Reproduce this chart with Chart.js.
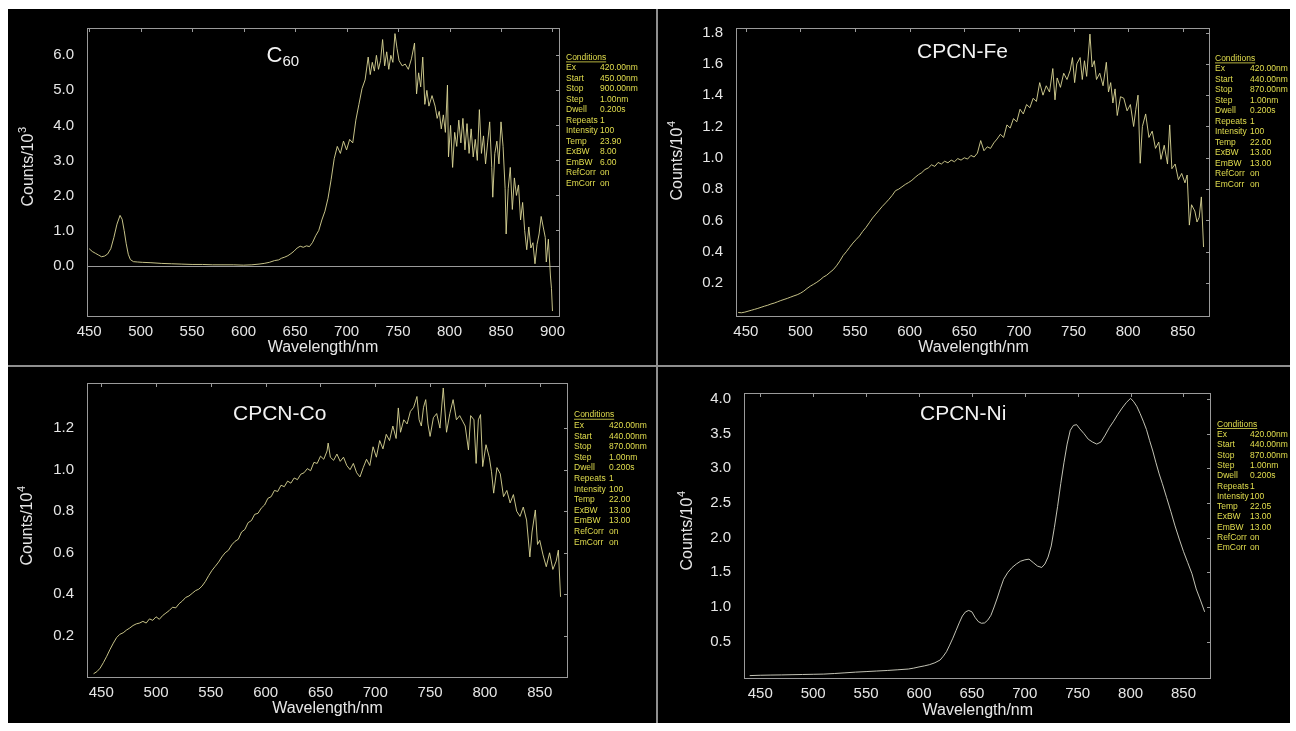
<!DOCTYPE html>
<html>
<head>
<meta charset="utf-8">
<title>Emission spectra</title>
<script src="https://cdn.jsdelivr.net/npm/chart.js@4.4.1/dist/chart.umd.min.js"></script>
<style>
  html, body { margin: 0; padding: 0; background: #fff; }
  #stage { position: relative; width: 1296px; height: 731px; overflow: hidden; }
  #board { position: absolute; left: 8px; top: 9px; width: 1282px; height: 714px; background: #000; }
  .vdiv { position: absolute; left: 656px; top: 9px; width: 2px; height: 714px; background: #8f8f8f; }
  .hdiv { position: absolute; left: 8px; top: 365px; width: 1282px; height: 2px; background: #8f8f8f; }
  canvas { position: absolute; left: 0; top: 0; }
</style>
</head>
<body>
<div id="stage">
  <div id="board"></div>
  <div class="vdiv"></div>
  <div class="hdiv"></div>
  <canvas id="c60Chart" width="1296" height="731"></canvas>
  <canvas id="feChart" width="1296" height="731"></canvas>
  <canvas id="coChart" width="1296" height="731"></canvas>
  <canvas id="niChart" width="1296" height="731"></canvas>
</div>
<script>
// C60 spectrum (counts / 10^3)
const c60Wavelength = [
  450, 453, 456, 459, 462, 465, 468, 471, 474, 477,
  480, 482, 484, 486, 488, 490, 493, 497, 502, 510,
  520, 530, 540, 550, 560, 570, 580, 590, 600, 608,
  615, 620, 625, 630, 634, 637, 640, 643, 646, 649,
  652, 655, 658, 661, 664, 667, 670, 673, 676, 679,
  682, 685, 688, 691, 694, 697, 700, 703, 706, 709,
  712, 715, 718, 721, 723, 725, 727, 729, 731, 733,
  735, 737, 739, 741, 743, 745, 747, 749, 751, 754,
  757, 760, 763, 766, 768, 770, 772, 774, 776, 778,
  780, 783, 786, 788, 790, 792, 794, 796, 798, 799,
  801, 803, 805, 807, 809, 811, 813, 815, 817, 819,
  821, 823, 825, 827, 829, 831, 833, 835, 837, 839,
  841, 842, 844, 846, 848, 850, 852, 854, 855, 857,
  859, 861, 863, 865, 867, 869, 871, 873, 875, 877,
  879, 881, 883, 885, 887, 889, 891, 893, 894, 896,
  898, 899, 900
];
const c60Counts = [
  0.48, 0.40, 0.35, 0.30, 0.25, 0.27, 0.33, 0.48, 0.80, 1.18,
  1.43, 1.32, 1.00, 0.62, 0.32, 0.17, 0.11, 0.10, 0.09, 0.08,
  0.06, 0.05, 0.04, 0.03, 0.03, 0.02, 0.02, 0.02, 0.01, 0.02,
  0.04, 0.06, 0.09, 0.14, 0.16, 0.21, 0.24, 0.28, 0.34, 0.41,
  0.50, 0.55, 0.52, 0.56, 0.54, 0.66, 0.85, 1.00, 1.30, 1.55,
  1.92, 2.45, 3.05, 3.40, 3.20, 3.55, 3.30, 3.60, 3.50, 4.15,
  4.60, 5.05, 5.30, 5.95, 5.45, 5.80, 5.55, 6.00, 5.60, 5.85,
  6.45, 5.70, 6.10, 5.60, 6.00, 5.80, 6.62, 6.20, 5.85, 5.70,
  5.75, 5.60, 5.90, 6.35, 4.90, 5.50, 5.10, 5.95, 4.60, 5.00,
  4.55, 4.85, 4.55, 4.20, 4.40, 3.90, 4.30, 3.80, 5.15, 3.10,
  4.00, 2.80, 3.80, 3.40, 4.15, 3.50, 4.20, 3.30, 4.05, 3.20,
  3.90, 3.10, 3.60, 3.00, 4.45, 3.20, 3.70, 2.90, 3.50, 4.10,
  2.80, 1.95, 3.20, 3.55, 2.90, 4.10, 3.40, 2.20, 0.90, 2.20,
  2.80, 1.60, 2.50, 2.00, 2.30, 1.30, 1.80, 1.00, 0.45, 1.10,
  0.50, 0.65, 0.05, 0.60, 0.90, 1.40, 1.10, 0.80, 0.10, 0.75,
  -0.30, -0.65, -1.30
];
const c60XTicks = [450, 500, 550, 600, 650, 700, 750, 800, 850, 900];
const c60YTicks = [0, 1, 2, 3, 4, 5, 6];

// CPCN-Fe spectrum (counts / 10^4)
const feWavelength = [
  443, 446, 449, 452, 455, 458, 461, 464, 467, 470,
  473, 476, 479, 482, 485, 488, 491, 494, 497, 500,
  503, 506, 509, 512, 515, 518, 521, 524, 527, 530,
  533, 536, 539, 542, 545, 548, 551, 554, 557, 560,
  563, 566, 569, 572, 575, 578, 581, 584, 587, 590,
  593, 596, 599, 602, 605, 608, 611, 614, 617, 620,
  623, 626, 629, 632, 635, 638, 641, 644, 647, 650,
  653, 656, 659, 662, 665, 668, 671, 674, 677, 680,
  683, 686, 689, 692, 695, 698, 701, 704, 707, 710,
  713, 716, 719, 722, 725, 728, 731, 733, 735, 738,
  741, 744, 747, 749, 751, 753, 756, 758, 760, 762,
  765, 767, 769, 771, 774, 777, 780, 782, 784, 786,
  788, 790, 793, 796, 799, 802, 805, 807, 809, 811,
  813, 816, 819, 822, 825, 828, 830, 833, 836, 838,
  840, 843, 846, 849, 852, 854, 856, 858, 861, 863,
  865, 867, 869
];
const feCounts = [
  0.012, 0.010, 0.014, 0.020, 0.026, 0.032, 0.038, 0.045, 0.052, 0.058,
  0.066, 0.072, 0.080, 0.088, 0.095, 0.102, 0.110, 0.118, 0.125, 0.135,
  0.148, 0.165, 0.180, 0.192, 0.205, 0.220, 0.238, 0.250, 0.268, 0.285,
  0.310, 0.340, 0.375, 0.400, 0.428, 0.455, 0.478, 0.500, 0.530, 0.555,
  0.585, 0.615, 0.640, 0.665, 0.690, 0.712, 0.735, 0.760, 0.790, 0.800,
  0.815, 0.830, 0.842, 0.856, 0.875, 0.892, 0.905, 0.925, 0.935, 0.955,
  0.945, 0.970, 0.960, 0.978, 0.968, 0.985, 0.975, 0.995, 0.985, 1.000,
  0.992, 1.015, 1.005, 1.030, 1.110, 1.045, 1.070, 1.060, 1.095, 1.120,
  1.150, 1.130, 1.210, 1.190, 1.250, 1.230, 1.310, 1.280, 1.340, 1.320,
  1.380, 1.360, 1.480, 1.400, 1.460, 1.420, 1.570, 1.370, 1.510, 1.450,
  1.540, 1.500, 1.560, 1.640, 1.480, 1.600, 1.640, 1.500, 1.620, 1.520,
  1.790, 1.580, 1.620, 1.500, 1.540, 1.460, 1.610, 1.420, 1.480, 1.350,
  1.440, 1.270, 1.390, 1.380, 1.300, 1.340, 1.200, 1.310, 1.400, 0.965,
  1.200, 1.280, 1.130, 1.170, 1.060, 1.100, 0.990, 1.080, 0.960, 1.210,
  0.930, 0.960, 0.860, 0.900, 0.840, 0.890, 0.570, 0.700, 0.660, 0.590,
  0.620, 0.750, 0.430
];
const feXTicks = [450, 500, 550, 600, 650, 700, 750, 800, 850];
const feYTicks = [0.2, 0.4, 0.6, 0.8, 1.0, 1.2, 1.4, 1.6, 1.8];

// CPCN-Co spectrum (counts / 10^4)
const coWavelength = [
  443, 446, 449, 452, 455, 458, 461, 464, 467, 470,
  473, 476, 479, 482, 485, 488, 491, 494, 497, 500,
  503, 506, 509, 512, 515, 518, 521, 524, 527, 530,
  533, 536, 539, 542, 545, 548, 551, 554, 557, 560,
  563, 566, 569, 572, 575, 578, 581, 584, 587, 590,
  593, 596, 599, 602, 605, 608, 611, 614, 617, 620,
  623, 626, 629, 632, 635, 638, 641, 644, 647, 650,
  653, 656, 657, 659, 662, 665, 668, 671, 674, 677,
  680, 683, 686, 689, 692, 695, 698, 701, 704, 707,
  710, 713, 716, 719, 721, 723, 726, 729, 732, 735,
  738, 740, 742, 744, 746, 748, 750, 753, 756, 759,
  762, 765, 768, 771, 774, 777, 780, 782, 785, 787,
  790, 792, 794, 796, 798, 801, 804, 806, 808, 811,
  814, 817, 820, 823, 826, 829, 832, 835, 838, 841,
  843, 846, 848, 850, 853, 856, 859, 862, 865, 867,
  869
];
const coCounts = [
  0.018, 0.028, 0.045, 0.072, 0.102, 0.135, 0.165, 0.192, 0.208, 0.215,
  0.228, 0.238, 0.250, 0.258, 0.262, 0.270, 0.262, 0.282, 0.275, 0.292,
  0.280, 0.298, 0.310, 0.322, 0.338, 0.335, 0.355, 0.368, 0.385, 0.392,
  0.405, 0.418, 0.425, 0.440, 0.462, 0.490, 0.515, 0.535, 0.555, 0.580,
  0.600, 0.612, 0.638, 0.655, 0.665, 0.700, 0.712, 0.745, 0.755, 0.785,
  0.790, 0.815, 0.830, 0.862, 0.870, 0.900, 0.895, 0.925, 0.918, 0.945,
  0.935, 0.960, 0.952, 0.978, 0.985, 1.005, 0.995, 1.035, 1.030, 1.065,
  1.050, 1.090, 1.128, 1.060, 1.045, 1.075, 1.040, 1.060, 1.020, 1.000,
  1.030, 0.985, 0.965, 1.010, 1.050, 1.020, 1.110, 1.060, 1.140, 1.100,
  1.170, 1.140, 1.210, 1.150, 1.297, 1.180, 1.240, 1.220, 1.280, 1.300,
  1.352, 1.240, 1.210, 1.300, 1.337, 1.220, 1.160, 1.250, 1.270, 1.200,
  1.393, 1.180, 1.270, 1.337, 1.240, 1.260, 1.230, 1.210, 1.095, 1.260,
  1.240, 1.030, 1.240, 1.265, 1.015, 1.120, 1.060, 0.990, 0.887, 1.010,
  0.980, 0.870, 0.900, 0.840, 0.880, 0.800, 0.775, 0.820, 0.758, 0.580,
  0.700, 0.806, 0.640, 0.660, 0.590, 0.533, 0.600, 0.520, 0.560, 0.613,
  0.388
];
const coXTicks = [450, 500, 550, 600, 650, 700, 750, 800, 850];
const coYTicks = [0.2, 0.4, 0.6, 0.8, 1.0, 1.2];

// CPCN-Ni spectrum (counts / 10^4)
const niWavelength = [
  440, 450, 460, 470, 480, 490, 500, 510, 520, 530,
  540, 550, 560, 570, 580, 590, 595, 600, 605, 610,
  615, 620, 623, 626, 629, 632, 635, 638, 641, 644,
  647, 650, 653, 656, 659, 662, 665, 668, 671, 674,
  677, 680, 684, 688, 692, 696, 700, 704, 708, 712,
  716, 719, 722, 725, 728, 731, 734, 737, 740, 743,
  746, 749, 752, 756, 760, 764, 768, 772, 776, 780,
  784, 788, 792, 796, 800, 803, 806, 809, 812, 815,
  818, 821, 824, 827, 830, 834, 838, 842, 846, 850,
  854, 858, 862, 866, 870
];
const niCounts = [
  0.010, 0.015, 0.018, 0.020, 0.023, 0.026, 0.029, 0.032, 0.040, 0.050,
  0.060, 0.068, 0.076, 0.084, 0.094, 0.105, 0.118, 0.135, 0.150, 0.168,
  0.195, 0.235, 0.290, 0.355, 0.450, 0.550, 0.660, 0.770, 0.870, 0.930,
  0.950, 0.930, 0.850, 0.790, 0.765, 0.770, 0.810, 0.880, 1.000, 1.130,
  1.270, 1.400, 1.500, 1.570, 1.620, 1.660, 1.680, 1.690, 1.640, 1.590,
  1.570, 1.620, 1.720, 1.880, 2.150, 2.450, 2.780, 3.080, 3.350, 3.550,
  3.620, 3.630, 3.570, 3.500, 3.420, 3.380, 3.350, 3.380, 3.480, 3.590,
  3.680, 3.780, 3.870, 3.950, 4.010, 3.960, 3.890, 3.790, 3.680, 3.560,
  3.400, 3.250, 3.080, 2.920, 2.780, 2.580, 2.380, 2.170, 1.980, 1.800,
  1.640, 1.480, 1.260, 1.100, 0.930
];
const niXTicks = [450, 500, 550, 600, 650, 700, 750, 800, 850];
const niYTicks = [0.5, 1.0, 1.5, 2.0, 2.5, 3.0, 3.5, 4.0];

// Instrument conditions printed next to each plot
const conditionLabels = ['Ex', 'Start', 'Stop', 'Step', 'Dwell', 'Repeats', 'Intensity', 'Temp', 'ExBW', 'EmBW', 'RefCorr', 'EmCorr'];
const c60Conditions = ['420.00nm', '450.00nm', '900.00nm', '1.00nm', '0.200s', '1', '100', '23.90', '8.00', '6.00', 'on', 'on'];
const feConditions = ['420.00nm', '440.00nm', '870.00nm', '1.00nm', '0.200s', '1', '100', '22.00', '13.00', '13.00', 'on', 'on'];
const coConditions = ['420.00nm', '440.00nm', '870.00nm', '1.00nm', '0.200s', '1', '100', '22.00', '13.00', '13.00', 'on', 'on'];
const niConditions = ['420.00nm', '440.00nm', '870.00nm', '1.00nm', '0.200s', '1', '100', '22.05', '13.00', '13.00', 'on', 'on'];

const FONT = '"Liberation Sans", Arial, sans-serif';
const frameColor = '#9a9a9a';
const labelColor = '#e6e6e6';
const condColor = '#e2de4e';
const W = 1296, H = 731;
const Y_AXIS_W = 60, X_AXIS_H = 40;

function drawYTitle(ctx, p) {
    ctx.save();
    ctx.translate(p.x, p.y);
    ctx.rotate(-Math.PI / 2);
    ctx.fillStyle = labelColor;
    ctx.textBaseline = 'alphabetic';
    ctx.textAlign = 'left';
    ctx.font = '16px ' + FONT;
    const main = 'Counts/10';
    const mw = ctx.measureText(main).width;
    ctx.font = '11px ' + FONT;
    const ew = ctx.measureText(p.exp).width;
    const x0 = -(mw + ew) / 2;
    ctx.font = '16px ' + FONT;
    ctx.fillText(main, x0, 0);
    ctx.font = '11px ' + FONT;
    ctx.fillText(p.exp, x0 + mw + 0.5, -7);
    ctx.restore();
}

function drawConditions(ctx, c, values) {
    ctx.save();
    ctx.font = '8.5px ' + FONT;
    ctx.fillStyle = condColor;
    ctx.textAlign = 'left';
    ctx.textBaseline = 'alphabetic';
    ctx.fillText('Conditions', c.x, c.y);
    ctx.fillRect(c.x, c.y + 1.5, ctx.measureText('Conditions').width, 0.8);
    conditionLabels.forEach((lab, i) => {
        const yy = c.y + (i + 1) * c.step;
        ctx.fillText(lab, c.x, yy);
        ctx.fillText(values[i], c.x + c.offset, yy);
    });
    ctx.restore();
}

function decorPlugin(p) {
    return {
        id: 'decor',
        beforeDatasetsDraw(chart) {
            if (!p.zeroLine) return;
            const { ctx, chartArea: a, scales: { y } } = chart;
            const py = Math.round(y.getPixelForValue(0)) + 0.5;
            ctx.save();
            ctx.strokeStyle = frameColor;
            ctx.lineWidth = 1;
            ctx.beginPath();
            ctx.moveTo(a.left, py);
            ctx.lineTo(a.right, py);
            ctx.stroke();
            ctx.restore();
        },
        afterDraw(chart) {
            const { ctx, chartArea: a, scales: { x, y } } = chart;
            ctx.save();
            ctx.strokeStyle = frameColor;
            ctx.lineWidth = 1;
            ctx.strokeRect(a.left + 0.5, a.top + 0.5, a.right - a.left - 1, a.bottom - a.top - 1);

            // short inward ticks on the top and right edges
            ctx.beginPath();
            p.xTicks.forEach(v => {
                const px = Math.round(x.getPixelForValue(v)) + 0.5;
                ctx.moveTo(px, a.top);
                ctx.lineTo(px, a.top + 4);
            });
            p.yTicks.forEach(v => {
                const py = Math.round(y.getPixelForValue(v)) + 0.5;
                ctx.moveTo(a.right, py);
                ctx.lineTo(a.right - 4, py);
            });
            ctx.stroke();

            // sample name
            ctx.fillStyle = '#f2f2f2';
            ctx.textAlign = 'left';
            ctx.textBaseline = 'alphabetic';
            ctx.font = p.title.size + 'px ' + FONT;
            ctx.fillText(p.title.text, p.title.x, p.title.y);
            if (p.title.sub) {
                const tw = ctx.measureText(p.title.text).width;
                ctx.font = '15px ' + FONT;
                ctx.fillText(p.title.sub, p.title.x + tw, p.title.y + 4);
            }

            // axis titles
            ctx.fillStyle = labelColor;
            ctx.font = '16px ' + FONT;
            ctx.textAlign = 'center';
            ctx.fillText('Wavelength/nm', p.xTitle.x, p.xTitle.y);
            ctx.restore();

            drawYTitle(ctx, p.yTitle);
            drawConditions(ctx, p.cond, p.condValues);
        }
    };
}

function makePanel(canvasId, p) {
    const points = p.wavelength.map((w, i) => ({ x: w, y: p.counts[i] }));
    const tickFont = { family: FONT, size: 15 };
    return new Chart(document.getElementById(canvasId), {
        type: 'line',
        data: {
            datasets: [{
                data: points,
                borderColor: p.lineColor,
                borderWidth: 1,
                pointRadius: 0,
                tension: 0,
                fill: false
            }]
        },
        options: {
            responsive: false,
            animation: false,
            events: [],
            layout: {
                padding: {
                    left: p.area.left - Y_AXIS_W,
                    top: p.area.top,
                    right: W - p.area.right,
                    bottom: H - p.area.bottom - X_AXIS_H
                }
            },
            plugins: {
                legend: { display: false },
                tooltip: { enabled: false }
            },
            scales: {
                x: {
                    type: 'linear',
                    min: p.xMin,
                    max: p.xMax,
                    grid: { display: false },
                    border: { display: false },
                    afterBuildTicks: s => { s.ticks = p.xTicks.map(v => ({ value: v })); },
                    afterFit: s => { s.height = X_AXIS_H; },
                    ticks: {
                        color: labelColor,
                        font: tickFont,
                        padding: -2,
                        maxRotation: 0,
                        autoSkip: false,
                        callback: v => String(v)
                    }
                },
                y: {
                    type: 'linear',
                    min: p.yMin,
                    max: p.yMax,
                    grid: { display: false },
                    border: { display: false },
                    afterBuildTicks: s => { s.ticks = p.yTicks.map(v => ({ value: v })); },
                    afterFit: s => { s.width = Y_AXIS_W; },
                    ticks: {
                        color: labelColor,
                        font: tickFont,
                        padding: 5,
                        autoSkip: false,
                        callback: v => Number(v).toFixed(1)
                    }
                }
            }
        },
        plugins: [decorPlugin(p)]
    });
}

makePanel('c60Chart', {
    wavelength: c60Wavelength, counts: c60Counts,
    xTicks: c60XTicks, yTicks: c60YTicks,
    area: { left: 87, top: 28, right: 560, bottom: 317 },
    xMin: 447.9, xMax: 907.3, yMin: -1.47, yMax: 6.78,
    zeroLine: true,
    lineColor: 'rgba(218, 214, 150, 0.9)',
    title: { text: 'C', sub: '60', size: 22, x: 266.5, y: 62 },
    xTitle: { x: 323, y: 351.5 },
    yTitle: { x: 33.3, y: 167, exp: '3' },
    cond: { x: 566, y: 60, step: 10.47, offset: 34 },
    condValues: c60Conditions
});

makePanel('feChart', {
    wavelength: feWavelength, counts: feCounts,
    xTicks: feXTicks, yTicks: feYTicks,
    area: { left: 736, top: 28, right: 1210, bottom: 317 },
    xMin: 441.0, xMax: 874.9, yMin: -0.017, yMax: 1.829,
    lineColor: 'rgba(218, 214, 150, 0.9)',
    title: { text: 'CPCN-Fe', size: 21, x: 917, y: 57.5 },
    xTitle: { x: 973.5, y: 352 },
    yTitle: { x: 682, y: 161, exp: '4' },
    cond: { x: 1215, y: 61, step: 10.47, offset: 35 },
    condValues: feConditions
});

makePanel('coChart', {
    wavelength: coWavelength, counts: coCounts,
    xTicks: coXTicks, yTicks: coYTicks,
    area: { left: 87, top: 383, right: 568, bottom: 678 },
    xMin: 437.0, xMax: 875.8, yMin: -0.0025, yMax: 1.417,
    lineColor: 'rgba(218, 214, 150, 0.9)',
    title: { text: 'CPCN-Co', size: 21, x: 233, y: 420 },
    xTitle: { x: 327.5, y: 713 },
    yTitle: { x: 32, y: 526, exp: '4' },
    cond: { x: 574, y: 417.3, step: 10.6, offset: 35 },
    condValues: coConditions
});

makePanel('niChart', {
    wavelength: niWavelength, counts: niCounts,
    xTicks: niXTicks, yTicks: niYTicks,
    area: { left: 744, top: 393, right: 1211, bottom: 679 },
    xMin: 434.6, xMax: 876.0, yMin: -0.039, yMax: 4.087,
    lineColor: 'rgba(215, 215, 200, 0.9)',
    title: { text: 'CPCN-Ni', size: 21, x: 920, y: 420 },
    xTitle: { x: 977.8, y: 714.5 },
    yTitle: { x: 692, y: 531, exp: '4' },
    cond: { x: 1217, y: 426.7, step: 10.3, offset: 33 },
    condValues: niConditions
});
</script>
